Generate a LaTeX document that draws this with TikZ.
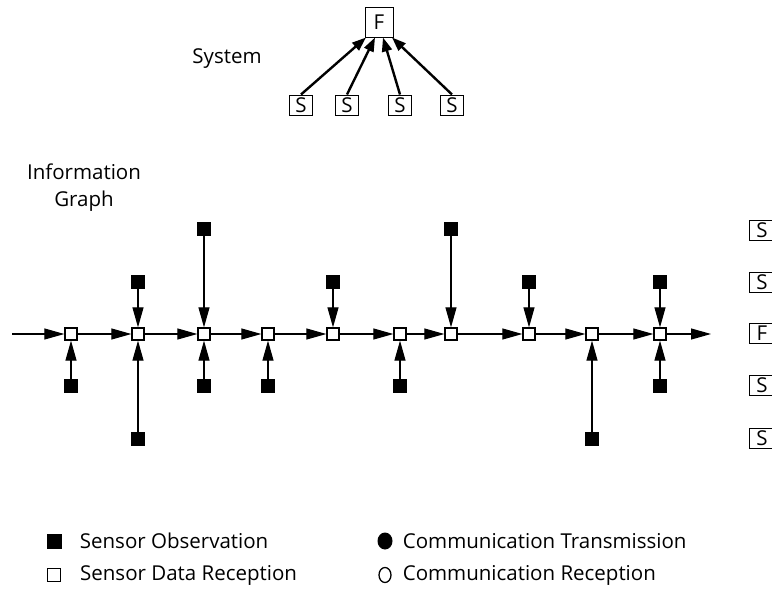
\documentclass[tikz,border=0pt]{standalone}
\usepackage{fontspec}
\setmainfont{Open Sans}
\usetikzlibrary{positioning,arrows.meta,shapes.geometric}
\tikzset{
  recv/.style={draw, fill=white, line width=1.3pt, minimum size=12pt, inner sep=0pt},
  obs/.style={fill=black, minimum size=14pt, inner sep=0pt},
  unit/.style={draw, line width=1pt, minimum width=23pt, minimum height=20pt, inner sep=0pt},
  flow/.style={-{Triangle[length=20pt,width=11pt]}, line width=1.2pt},
  feed/.style={-{Triangle[length=14pt,width=10pt]}, line width=2.4pt},
  keyText/.style={anchor=west, inner sep=0pt}
}
\begin{document}
\begin{tikzpicture}[x=1pt, y=-1pt, font=\fontsize{20.5}{27}\selectfont]
  \useasboundingbox (0,0) rectangle (772,600);

  % system: four sensors feeding one fusion node
  \node[unit, minimum width=28pt, minimum height=30pt] (fuse) at (379,22) {F};
  \foreach \i/\x in {1/301,2/347,3/400,4/452}
    \node[unit] (sen\i) at (\x,105) {S};
  \draw[feed] (sen1.north) -- ([xshift=-13pt]fuse.south);
  \draw[feed] (sen2.north) -- ([xshift=-4pt]fuse.south);
  \draw[feed] (sen3.north) -- ([xshift=4pt]fuse.south);
  \draw[feed] (sen4.north) -- ([xshift=13pt]fuse.south);
  \node (sys) at (227,59) {System};

  % information graph
  \node[align=center] (info) at (84,188) {Information\\Graph};
  \foreach \i/\x in {1/71,2/138,3/204,4/268,5/333,6/400,7/451,8/529,9/592,10/660}
    \node[recv] (r\i) at (\x,334) {};
  \coordinate (start) at (12,334);
  \coordinate (stop) at (711,334);
  \draw[flow] (start) -- (r1);
  \foreach \i [count=\j from 2] in {1,...,9}
    \draw[flow] (r\i) -- (r\j);
  \draw[flow] (r10) -- (stop);

  % sensor observations
  \foreach \r/\side/\gap [count=\k] in {1/below/38pt, 2/above/38pt, 2/below/91pt,
      3/above/91pt, 3/below/38pt, 4/below/38pt, 5/above/38pt, 6/below/38pt,
      7/above/91pt, 8/above/38pt, 9/below/91pt, 10/above/38pt, 10/below/38pt}
  {
    \node[obs, \side=\gap of r\r] (o\k) {};
    \draw[flow] (o\k) -- (r\r);
  }

  % node column on the right
  \foreach \n/\t/\y in {a/S/230, b/S/282, c/F/333, d/S/385, e/S/438}
    \node[unit, minimum width=25pt] (col\n) at (762,\y) {\t};

  % key
  \node[obs, minimum size=15pt] (kObs) at (54,541) {};
  \node[keyText, right=18pt of kObs] (tObs) {Sensor Observation};
  \node[draw, line width=0.9pt, minimum size=13pt, inner sep=0pt] (kRec) at (54,575) {};
  \node[keyText, right=19pt of kRec] (tRec) {Sensor Data Reception};
  \node[ellipse, fill=black, minimum width=15pt, minimum height=17pt, inner sep=0pt] (kTx) at (385,541) {};
  \node[keyText, right=10pt of kTx] (tTx) {Communication Transmission};
  \node[ellipse, draw, line width=1.3pt, minimum width=12pt, minimum height=15pt, inner sep=0pt] (kRx) at (385,575) {};
  \node[keyText, right=11pt of kRx] (tRx) {Communication Reception};
\end{tikzpicture}
\end{document}
